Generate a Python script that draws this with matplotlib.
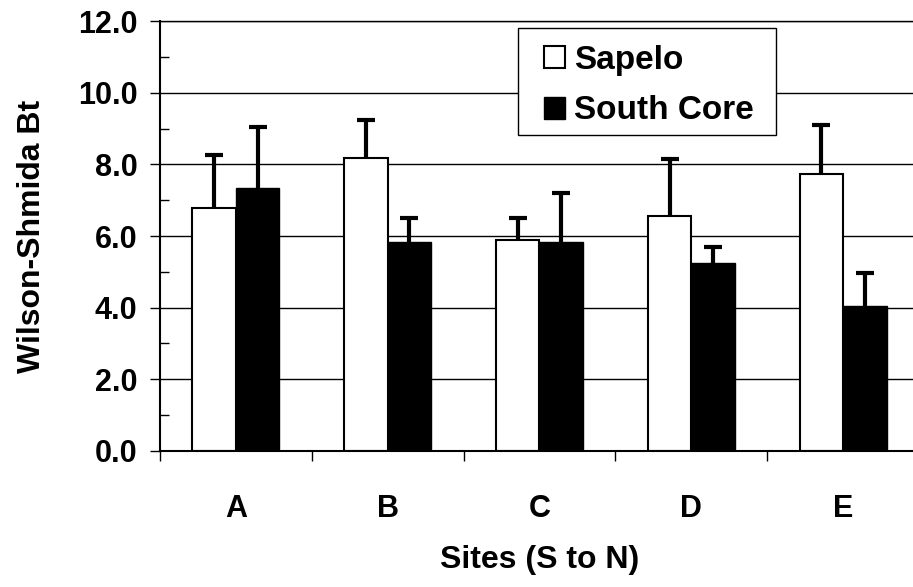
import matplotlib.pyplot as plt
import numpy as np
from matplotlib.patches import Rectangle
from matplotlib.ticker import MultipleLocator, FixedLocator, FormatStrFormatter

## -- site data: bar heights and upper error bars
sites = ['A', 'B', 'C', 'D', 'E']
sapelo = [6.78, 8.19, 5.89, 6.56, 7.73]
sapelo_err = [1.47, 1.04, 0.61, 1.58, 1.37]
south = [7.33, 5.82, 5.82, 5.26, 4.05]
south_err = [1.72, 0.68, 1.39, 0.44, 0.91]

plt.rcParams['font.family'] = ['Liberation Sans', 'DejaVu Sans']
plt.rcParams['font.weight'] = 'bold'

fig = plt.figure(figsize=(9.13, 5.87), dpi=100)
ax = fig.add_axes([0.1752, 0.2317, 1.0066 - 0.1752, 0.9642 - 0.2317])

x = np.arange(len(sites))
w = 0.286
## -- bars
ax.bar(x - w/2, sapelo, w, color='white', edgecolor='k', lw=1.5, label='Sapelo', zorder=2)
ax.bar(x + w/2, south, w, color='k', edgecolor='k', lw=1.0, label='South Core', zorder=2)

## -- upper error bars only (drop the cap sitting on the bar top)
def upper_err(xs, ys, es):
 eb = ax.errorbar(xs, ys, yerr=[np.zeros(len(xs)), es], fmt='none',
  ecolor='k', elinewidth=3, capsize=6.5, capthick=3, zorder=3)
 for cap in eb[1]:
  if np.allclose(cap.get_ydata(), ys):
   cap.set_visible(False)
 return eb
upper_err(x - w/2, sapelo, sapelo_err)
upper_err(x + w/2, south, south_err)

## -- axes setup
ax.set_xlim(-0.5, len(sites) - 0.5)
ax.set_ylim(0, 12)
ax.yaxis.set_major_locator(MultipleLocator(2))
ax.yaxis.set_minor_locator(MultipleLocator(1))
ax.yaxis.set_major_formatter(FormatStrFormatter('%.1f'))
ax.set_xticks(x)
ax.set_xticklabels(sites)
ax.xaxis.set_minor_locator(FixedLocator(np.arange(-0.5, len(sites), 1.0)))
ax.yaxis.grid(True, which='major', color='k', lw=1)
ax.set_axisbelow(True)

ax.tick_params(axis='y', which='major', direction='out', length=7.2, width=1,
 labelsize=22, pad=9)
ax.tick_params(axis='y', which='minor', direction='in', length=6.5, width=1)
ax.tick_params(axis='x', which='major', length=0, labelsize=22, pad=31)
ax.tick_params(axis='x', which='minor', direction='out', length=7.5, width=1)
for lab in ax.get_xticklabels() + ax.get_yticklabels():
 lab.set_fontweight('bold')

ax.spines['right'].set_visible(False)
ax.spines['top'].set_linewidth(1)
ax.spines['left'].set_linewidth(1.5)
ax.spines['bottom'].set_linewidth(1.5)

ax.set_xlabel('Sites (S to N)', fontsize=23, fontweight='bold', labelpad=15)
ax.set_ylabel('Wilson-Shmida Bt', fontsize=23, fontweight='bold', labelpad=22)

## -- legend: plain box drawn separately, entries on top of it
ax.add_patch(Rectangle((0.4717, 0.7349), 0.8116 - 0.4717, 0.9837 - 0.7349,
 transform=ax.transAxes, facecolor='white', edgecolor='k', lw=1, zorder=4))
leg = ax.legend(loc='upper left', bbox_to_anchor=(0.5059, 0.9442), borderaxespad=0,
 frameon=False, fontsize=24, borderpad=0,
 handlelength=0.63, handleheight=0.63, handletextpad=0.28, labelspacing=0.58)
leg.set_zorder(5)
for t in leg.get_texts():
 t.set_fontweight('bold')

fig.savefig('out.png', dpi=100)
